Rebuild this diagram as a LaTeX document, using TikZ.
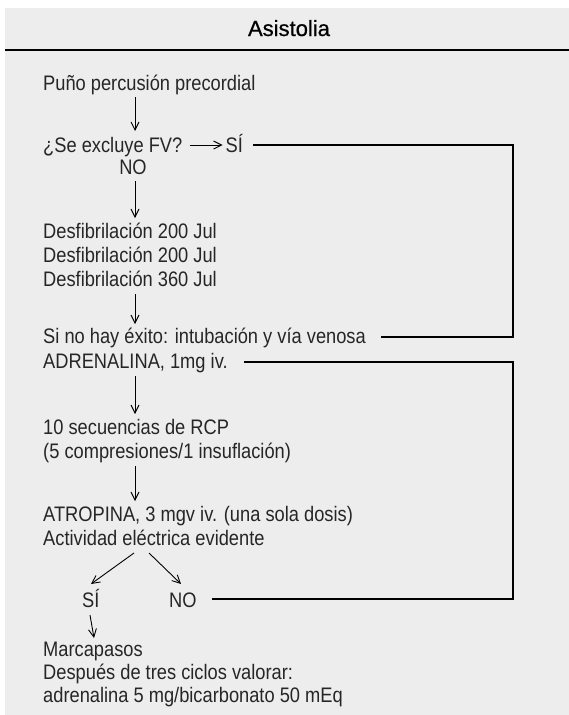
\documentclass[tikz,border=0pt]{standalone}
\usepackage{fontspec}
\setmainfont{Liberation Sans}
\newfontfamily\bodyfam{Liberation Sans}[FakeStretch=0.87]
\newfontfamily\titlefam{Liberation Sans}[FakeBold=0.6]
\usetikzlibrary{arrows.meta,calc}
\definecolor{bgc}{HTML}{EDEDED}
\definecolor{txtc}{HTML}{262626}
\begin{document}
\begin{tikzpicture}[x=1pt,y=-1pt,
  txt/.style={anchor=base west, inner sep=0pt, font=\bodyfam\fontsize{21}{23}\selectfont, text=txtc},
  arr/.style={-{Straight Barb[length=8pt,width=8pt]}, line width=0.9pt},
  conn/.style={line width=1.4pt}]
\useasboundingbox (0,0) rectangle (569,715);
\fill[bgc] (5,8) rectangle (569,715);
\draw[line width=2.2pt] (5,50) -- (569,50);
\node[anchor=base, inner sep=0pt, font=\titlefam\fontsize{22}{24}\selectfont] (title) at (289,36) {Asistolia};
\coordinate (ax) at (135,0);
\coordinate (rx) at (513,0);
% texts
\node[txt] (puno) at (43,90) {Puño percusión precordial};
\node[txt] (fv) at (43,152) {¿Se excluye FV?};
\node[txt] (si1) at ($(fv.base east)+(43,0)$) {SÍ};
\node[txt,anchor=base] (no1) at (133,174) {NO};
\node[txt] (desf1) at (43,238) {Desfibrilación 200 Jul};
\node[txt] (desf2) at (43,262) {Desfibrilación 200 Jul};
\node[txt] (desf3) at (43,286) {Desfibrilación 360 Jul};
\node[txt] (sino) at (43,343) {Si no hay éxito: intubación y vía venosa};
\node[txt] (adren) at (43,368) {ADRENALINA, 1mg iv.};
\node[txt] (rcp1) at (43,434) {10 secuencias de RCP};
\node[txt] (rcp2) at (43,458) {(5 compresiones/1 insuflación)};
\node[txt] (atrop) at (43,521) {ATROPINA, 3 mgv iv. (una sola dosis)};
\node[txt] (activ) at (43,545) {Actividad eléctrica evidente};
\node[txt] (si2) at (82,607) {SÍ};
\node[txt] (no2) at (169,607) {NO};
\node[txt] (marca) at (43,656) {Marcapasos};
\node[txt] (desp) at (43,679) {Después de tres ciclos valorar:};
\node[txt] (adre) at (43,702) {adrenalina 5 mg/bicarbonato 50 mEq};
% vertical arrows
\draw[arr] ($(puno.base -| ax)+(0,7)$) -- ($(fv.base -| ax)+(0,-21)$);
\draw[arr] ($(fv.base east)+(7,-7)$) -- ($(si1.base west)+(-3,-7)$);
\draw[arr] ($(no1.base -| ax)+(0,7)$) -- ($(desf1.base -| ax)+(0,-20)$);
\draw[arr] ($(desf3.base -| ax)+(0,8)$) -- ($(sino.base -| ax)+(0,-19)$);
\draw[arr] ($(adren.base -| ax)+(0,8)$) -- ($(rcp1.base -| ax)+(0,-20)$);
\draw[arr] ($(rcp2.base -| ax)+(0,8)$) -- ($(atrop.base -| ax)+(0,-20)$);
\draw[arr] ($(activ.base -| ax)+(-1,8)$) -- ($(si2.base west)+(9,-23)$);
\draw[arr] ($(activ.base -| ax)+(14,8)$) -- ($(no2.base west)+(12,-23)$);
\draw[arr] ($(si2.base west)+(8,8)$) -- ($(marca.base west)+(51,-18)$);
% feedback connectors
\draw[conn] ($(si1.base east)+(10,-7)$) -- ($(si1.base -| rx)+(0,-7)$) -- ($(sino.base -| rx)+(0,-6)$) -- ($(sino.base east)+(15,-6)$);
\draw[conn] ($(adren.base east)+(16,-6)$) -- ($(adren.base -| rx)+(0,-6)$) -- ($(no2.base -| rx)+(0,-8)$) -- ($(no2.base east)+(15,-8)$);
\end{tikzpicture}
\end{document}
